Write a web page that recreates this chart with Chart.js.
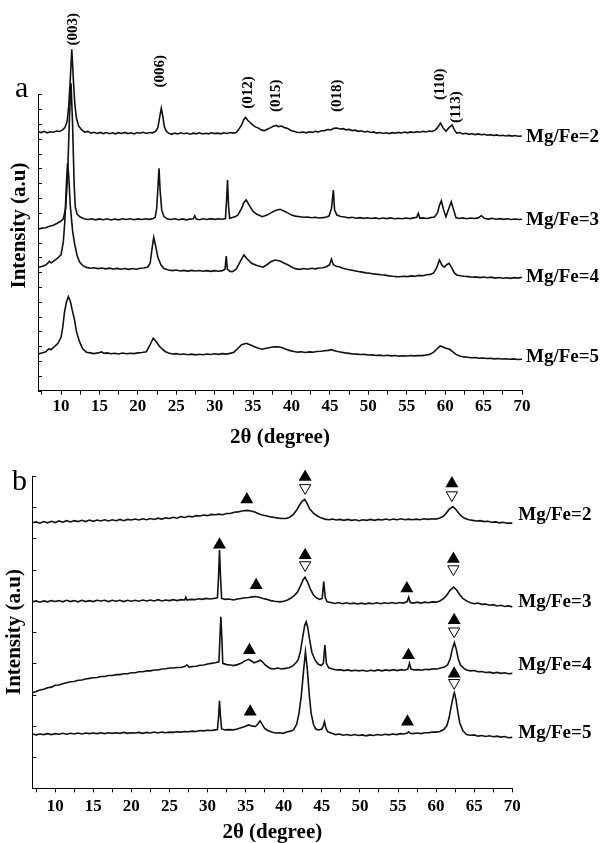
<!DOCTYPE html>
<html>
<head>
<meta charset="utf-8">
<script src="https://cdn.jsdelivr.net/npm/chart.js@4"></script>
<style>
  html, body { margin: 0; padding: 0; background: #fff; overflow: hidden; width: 603px; height: 843px; }
  canvas { position: absolute; left: 0; }
</style>
</head>
<body>
<canvas id="chartA" width="603" height="460" style="top:0"></canvas>
<canvas id="chartB" width="603" height="393" style="top:460px"></canvas>
<script>
const serif = "'Liberation Serif', 'Times New Roman', serif";

// x ticks every 2.5 degrees, labels on multiples of 5
const xTicks = [7.5, 10, 12.5, 15, 17.5, 20, 22.5, 25, 27.5, 30, 32.5, 35, 37.5, 40, 42.5, 45, 47.5, 50, 52.5, 55, 57.5, 60, 62.5, 65, 67.5, 70];
const yTicksA = [0, 1, 2, 3, 4, 5, 6, 7, 8, 9, 10, 11, 12, 13, 14, 15, 16, 17, 18, 19, 20];
const yTicksB = [0, 1, 2, 3, 4, 5, 6, 7, 8, 9, 10];

const sampleNames = ['Mg/Fe=2', 'Mg/Fe=3', 'Mg/Fe=4', 'Mg/Fe=5'];

// panel a : [2theta, intensity]
const mgfe2A = [[7,17.48],[7.4,17.42],[7.8,17.5],[8.2,17.4],[8.6,17.47],[9,17.44],[9.4,17.52],[9.8,17.49],[10.2,17.6],[10.5,17.75],[10.8,18.2],[11.0,19.2],[11.2,21.0],[11.4,23.04],[11.6,21.0],[11.8,19.3],[12.0,18.4],[12.3,17.85],[12.7,17.6],[13.1,17.45],[13.5,17.5],[13.9,17.38],[14.3,17.44],[14.7,17.36],[15.1,17.43],[15.5,17.35],[15.9,17.42],[16.3,17.34],[16.7,17.4],[17.1,17.33],[17.5,17.41],[17.9,17.36],[18.3,17.43],[18.7,17.35],[19.1,17.4],[19.5,17.33],[19.9,17.42],[20.3,17.37],[20.7,17.44],[21.1,17.36],[21.5,17.42],[21.9,17.4],[22.3,17.5],[22.6,17.75],[22.85,18.5],[23.05,19.06],[23.25,18.5],[23.45,17.8],[23.7,17.5],[24.0,17.38],[24.4,17.3],[24.8,17.38],[25.2,17.32],[25.6,17.4],[26,17.34],[26.4,17.39],[26.8,17.31],[27.2,17.38],[27.6,17.33],[28,17.4],[28.4,17.32],[28.8,17.37],[29.2,17.33],[29.6,17.4],[30,17.35],[30.4,17.38],[30.8,17.33],[31.2,17.4],[31.6,17.36],[32,17.42],[32.4,17.38],[32.8,17.42],[33.1,17.6],[33.5,17.93],[33.8,18.3],[34.0,18.45],[34.3,18.25],[34.6,18.1],[34.9,17.95],[35.3,17.8],[35.7,17.72],[36.1,17.58],[36.5,17.55],[36.9,17.66],[37.3,17.75],[37.7,17.86],[38.0,17.9],[38.3,17.82],[38.7,17.86],[39.1,17.75],[39.5,17.7],[39.9,17.56],[40.3,17.5],[40.7,17.44],[41.1,17.42],[41.5,17.45],[41.9,17.4],[42.3,17.47],[42.7,17.43],[43.1,17.5],[43.5,17.46],[43.9,17.54],[44.3,17.55],[44.7,17.62],[45.1,17.6],[45.5,17.7],[45.9,17.72],[46.3,17.66],[46.7,17.68],[47.1,17.6],[47.5,17.63],[47.9,17.55],[48.3,17.58],[48.7,17.5],[49.1,17.54],[49.5,17.46],[49.9,17.5],[50.3,17.42],[50.7,17.46],[51.1,17.38],[51.5,17.42],[51.9,17.36],[52.3,17.4],[52.7,17.35],[53.1,17.41],[53.5,17.37],[53.9,17.43],[54.3,17.39],[54.7,17.45],[55.1,17.4],[55.5,17.46],[55.9,17.42],[56.3,17.48],[56.7,17.44],[57.1,17.5],[57.5,17.46],[57.9,17.52],[58.3,17.49],[58.7,17.58],[59.0,17.75],[59.4,18.06],[59.7,17.75],[60.1,17.5],[60.5,17.75],[60.9,17.93],[61.2,17.6],[61.5,17.38],[61.9,17.42],[62.3,17.33],[62.7,17.37],[63.1,17.3],[63.5,17.34],[63.9,17.28],[64.3,17.33],[64.7,17.27],[65.1,17.3],[65.5,17.24],[65.9,17.28],[66.3,17.22],[66.7,17.26],[67.1,17.2],[67.5,17.24],[67.9,17.19],[68.3,17.23],[68.7,17.18],[69.1,17.22],[69.5,17.17],[70,17.19]];

const mgfe3A = [[7,10.89],[7.5,10.97],[8,11.0],[8.5,11.1],[9,11.16],[9.5,11.3],[10,11.45],[10.3,11.6],[10.6,12.3],[10.85,14.5],[11.1,18.5],[11.3,20.74],[11.5,18.0],[11.7,14.0],[11.85,12.4],[12.1,11.9],[12.5,11.72],[13,11.6],[13.5,11.55],[14,11.6],[14.5,11.53],[15,11.59],[15.5,11.54],[16,11.6],[16.5,11.52],[17,11.58],[17.5,11.53],[18,11.6],[18.5,11.55],[19,11.6],[19.5,11.54],[20,11.59],[20.5,11.55],[21,11.6],[21.5,11.56],[22,11.62],[22.25,11.7],[22.45,12.3],[22.6,13.6],[22.75,15.01],[22.9,13.5],[23.1,12.2],[23.4,11.75],[23.8,11.6],[24.3,11.55],[24.8,11.6],[25.3,11.54],[25.8,11.59],[26.3,11.53],[26.8,11.58],[27.2,11.6],[27.4,11.8],[27.6,11.58],[28,11.54],[28.5,11.6],[29,11.55],[29.5,11.61],[30,11.56],[30.5,11.6],[31,11.57],[31.4,11.62],[31.55,12.9],[31.67,14.22],[31.8,12.5],[31.95,11.62],[32.3,11.68],[32.7,11.75],[33.0,11.85],[33.5,12.3],[33.8,12.7],[34.1,12.87],[34.5,12.5],[35,12.1],[35.5,11.9],[36.2,11.74],[36.8,11.85],[37.5,12.05],[38,12.18],[38.5,12.24],[39,12.12],[39.5,12.0],[40,11.85],[40.5,11.78],[41.1,11.74],[41.6,11.7],[42.1,11.72],[42.6,11.67],[43.1,11.7],[43.6,11.65],[44.1,11.68],[44.6,11.72],[44.9,11.8],[45.2,12.3],[45.45,13.54],[45.6,12.2],[45.9,11.85],[46.4,11.75],[46.9,11.72],[47.4,11.66],[47.9,11.7],[48.4,11.64],[48.9,11.68],[49.4,11.63],[49.9,11.67],[50.4,11.62],[50.9,11.66],[51.4,11.6],[51.9,11.65],[52.4,11.61],[52.9,11.66],[53.4,11.6],[53.9,11.64],[54.4,11.6],[54.9,11.65],[55.4,11.61],[55.9,11.66],[56.3,11.7],[56.5,11.97],[56.7,11.65],[57.1,11.66],[57.6,11.62],[58.1,11.68],[58.6,11.72],[59.0,12.0],[59.25,12.5],[59.5,12.82],[59.8,12.2],[60.1,11.74],[60.4,12.2],[60.8,12.75],[61.1,12.2],[61.4,11.68],[61.8,11.62],[62.3,11.66],[62.8,11.6],[63.3,11.65],[63.8,11.62],[64.3,11.66],[64.7,11.81],[65.1,11.63],[65.6,11.58],[66.1,11.63],[66.6,11.57],[67.1,11.61],[67.6,11.56],[68.1,11.6],[68.6,11.55],[69.1,11.59],[69.6,11.55],[70,11.57]];

const mgfe4A = [[7,8.33],[7.5,8.38],[8,8.48],[8.3,8.62],[8.5,8.74],[8.7,8.62],[9,8.72],[9.5,8.92],[10,9.16],[10.3,10.05],[10.5,11.5],[10.7,14.0],[10.85,15.36],[11.0,14.5],[11.2,12.5],[11.5,10.8],[11.75,9.95],[12.1,9.1],[12.4,8.7],[12.8,8.45],[13.3,8.32],[13.8,8.26],[14.3,8.3],[14.8,8.24],[15.3,8.28],[15.8,8.22],[16.3,8.27],[16.8,8.21],[17.3,8.25],[17.8,8.2],[18.3,8.24],[18.8,8.19],[19.3,8.24],[19.8,8.2],[20.3,8.26],[20.8,8.28],[21.3,8.35],[21.6,8.6],[21.85,9.6],[22.06,10.35],[22.3,9.8],[22.6,9.0],[23.0,8.5],[23.4,8.25],[24,8.15],[24.5,8.1],[25,8.14],[25.5,8.08],[26,8.12],[26.5,8.07],[27,8.12],[27.5,8.08],[28,8.11],[28.5,8.06],[29,8.1],[29.5,8.05],[30,8.1],[30.5,8.06],[31,8.1],[31.35,8.2],[31.5,9.09],[31.65,8.2],[32,8.05],[32.3,8.03],[32.8,8.2],[33.3,8.7],[33.8,9.16],[34.2,8.9],[34.8,8.6],[35.5,8.45],[36.3,8.33],[36.8,8.5],[37.3,8.7],[37.85,8.82],[38.5,8.75],[39,8.62],[39.5,8.5],[40.2,8.3],[40.6,8.22],[41.1,8.19],[41.6,8.24],[42.1,8.2],[42.6,8.26],[43.1,8.22],[43.6,8.28],[44.1,8.3],[44.6,8.38],[44.95,8.5],[45.2,8.87],[45.45,8.5],[45.8,8.4],[46.2,8.37],[46.7,8.26],[47.2,8.2],[47.7,8.15],[48.2,8.1],[48.7,8.04],[49.2,8.0],[49.7,7.95],[50.2,7.93],[50.7,7.88],[51.2,7.85],[51.7,7.82],[52.2,7.8],[52.7,7.75],[53.2,7.72],[53.7,7.7],[54.1,7.69],[54.6,7.72],[55.1,7.7],[55.6,7.75],[56.1,7.72],[56.6,7.78],[57.1,7.76],[57.6,7.82],[58.1,7.85],[58.5,7.95],[58.9,8.3],[59.25,8.82],[59.6,8.45],[59.9,8.33],[60.2,8.5],[60.5,8.6],[60.9,8.25],[61.2,7.95],[61.5,7.81],[62,7.76],[62.5,7.72],[63,7.7],[63.5,7.66],[64,7.68],[64.5,7.63],[65,7.67],[65.5,7.62],[66,7.66],[66.5,7.6],[67,7.64],[67.5,7.59],[68,7.62],[68.5,7.58],[69,7.63],[69.5,7.6],[70,7.65]];

const mgfe5A = [[7,2.48],[7.5,2.55],[8,2.62],[8.4,2.82],[8.7,2.78],[9.1,2.95],[9.6,3.2],[10,3.6],[10.2,4.2],[10.45,5.3],[10.7,5.98],[10.95,6.34],[11.2,6.05],[11.45,5.45],[11.75,4.8],[12.0,4.0],[12.4,3.31],[12.8,2.85],[13.3,2.6],[13.8,2.55],[14.3,2.5],[14.8,2.55],[15.3,2.62],[15.6,2.52],[16,2.55],[16.5,2.49],[17,2.53],[17.5,2.48],[18,2.54],[18.5,2.49],[19,2.53],[19.5,2.5],[20,2.55],[20.5,2.58],[21.1,2.63],[21.5,3.0],[22,3.54],[22.4,3.3],[22.8,3.0],[23.2,2.8],[23.6,2.63],[24,2.54],[24.5,2.48],[25,2.5],[25.5,2.44],[26,2.48],[26.5,2.43],[27,2.47],[27.5,2.42],[28,2.46],[28.5,2.43],[29,2.48],[29.5,2.44],[30,2.49],[30.5,2.45],[31,2.5],[31.5,2.47],[32,2.52],[32.5,2.6],[33,2.85],[33.5,3.1],[34.1,3.2],[34.6,3.1],[35.1,2.98],[35.6,2.88],[36.2,2.8],[36.7,2.86],[37.2,2.92],[37.7,2.97],[38.2,2.96],[38.7,2.92],[39.2,2.82],[39.7,2.72],[40.3,2.65],[40.8,2.6],[41.3,2.63],[41.8,2.58],[42.3,2.62],[42.8,2.6],[43.3,2.65],[43.8,2.66],[44.3,2.7],[44.8,2.72],[45.2,2.77],[45.6,2.7],[46,2.65],[46.5,2.6],[47,2.55],[47.5,2.52],[48,2.48],[48.5,2.47],[49,2.44],[49.5,2.45],[50,2.41],[50.5,2.42],[51,2.38],[51.5,2.4],[52,2.36],[52.5,2.39],[53,2.35],[53.5,2.37],[54,2.33],[54.5,2.36],[55,2.34],[55.5,2.37],[56,2.35],[56.5,2.38],[57,2.37],[57.5,2.41],[58,2.45],[58.5,2.6],[58.9,2.8],[59.35,3.02],[59.7,2.95],[60.1,2.86],[60.6,2.79],[61,2.62],[61.4,2.45],[61.9,2.34],[62.4,2.28],[62.9,2.26],[63.4,2.22],[63.9,2.24],[64.4,2.19],[64.9,2.21],[65.4,2.17],[65.9,2.19],[66.4,2.15],[66.9,2.17],[67.4,2.14],[67.9,2.16],[68.4,2.12],[68.9,2.15],[69.4,2.11],[70,2.12]];

// hkl reflections of panel a
const hklNames = ['(003)', '(006)', '(012)', '(015)', '(018)', '(110)', '(113)'];
const hklAngle = [11.54, 22.84, 34.35, 38.06, 45.98, 59.35, 61.4];
const hklLevel = [24.39, 21.56, 20.12, 19.9, 19.9, 20.68, 19.14];

// panel b
const mgfe2B = [[7,8.5],[7.5,8.53],[8,8.49],[8.5,8.54],[9,8.5],[9.5,8.55],[10,8.51],[10.5,8.56],[11,8.52],[11.5,8.57],[12,8.53],[12.5,8.57],[13,8.54],[13.5,8.58],[14,8.54],[14.5,8.59],[15,8.55],[15.5,8.59],[16,8.56],[16.5,8.6],[17,8.56],[17.5,8.6],[18,8.57],[18.5,8.61],[19,8.57],[19.5,8.61],[20,8.59],[20.5,8.62],[21,8.59],[21.5,8.63],[22,8.6],[22.5,8.64],[23,8.61],[23.5,8.65],[24,8.62],[24.5,8.66],[25,8.64],[25.5,8.68],[26,8.65],[26.5,8.7],[27,8.67],[27.5,8.71],[28,8.69],[28.5,8.73],[29,8.72],[29.5,8.75],[30,8.73],[30.5,8.77],[31,8.76],[31.5,8.78],[32,8.76],[32.5,8.8],[33,8.8],[33.5,8.84],[34,8.85],[34.5,8.88],[35.2,8.9],[35.7,8.88],[36.2,8.85],[36.7,8.79],[37.2,8.75],[37.8,8.72],[38.3,8.69],[38.8,8.67],[39.3,8.65],[39.8,8.64],[40.3,8.64],[40.8,8.68],[41.3,8.78],[41.7,8.91],[42.1,9.08],[42.45,9.2],[42.75,9.25],[43.05,9.13],[43.4,8.95],[43.9,8.81],[44.4,8.72],[44.9,8.66],[45.4,8.62],[45.9,8.6],[46.4,8.62],[46.9,8.59],[47.4,8.61],[47.9,8.58],[48.4,8.61],[48.9,8.58],[49.4,8.6],[49.9,8.57],[50.4,8.6],[50.9,8.58],[51.4,8.61],[51.9,8.58],[52.4,8.61],[52.9,8.59],[53.4,8.62],[53.9,8.59],[54.4,8.62],[54.9,8.6],[55.4,8.63],[55.9,8.6],[56.4,8.62],[56.9,8.6],[57.4,8.62],[57.9,8.6],[58.4,8.63],[58.9,8.61],[59.4,8.63],[59.9,8.62],[60.4,8.65],[60.9,8.7],[61.3,8.8],[61.7,8.93],[62.2,9.02],[62.6,8.93],[63.0,8.8],[63.4,8.7],[63.8,8.64],[64.3,8.6],[64.8,8.58],[65.3,8.56],[65.8,8.57],[66.3,8.54],[66.8,8.55],[67.3,8.52],[67.8,8.53],[68.3,8.5],[68.8,8.52],[69.3,8.49],[70,8.49]];

const mgfe3B = [[7,5.97],[7.5,6.0],[8,5.96],[8.5,6.0],[9,5.97],[9.5,6.01],[10,5.98],[10.5,6.01],[11,5.97],[11.5,6.02],[12,5.98],[12.5,6.01],[13,5.97],[13.5,6.02],[14,5.98],[14.5,6.01],[15,5.98],[15.5,6.02],[16,6.0],[16.5,6.02],[17,5.98],[17.5,6.02],[18,5.99],[18.5,6.02],[19,5.98],[19.5,6.02],[20,5.99],[20.5,6.02],[21,5.99],[21.5,6.03],[22,6.0],[22.5,6.03],[23,6.0],[23.5,6.04],[24,6.0],[24.5,6.03],[25,6.01],[25.5,6.04],[26,6.01],[26.5,6.04],[27,6.03],[27.15,6.12],[27.3,6.03],[27.8,6.05],[28.3,6.04],[28.8,6.07],[29.3,6.05],[29.8,6.08],[30.3,6.06],[30.8,6.08],[31.3,6.1],[31.45,6.8],[31.57,7.63],[31.7,6.8],[31.85,6.08],[32.3,6.05],[32.8,6.06],[33.4,6.03],[33.9,6.06],[34.4,6.08],[34.9,6.1],[35.4,6.11],[35.9,6.13],[36.3,6.14],[36.8,6.12],[37.3,6.08],[37.8,6.05],[38.3,6.01],[38.8,5.99],[39.5,5.97],[40,5.99],[40.5,6.03],[41,6.1],[41.4,6.18],[41.8,6.28],[42.2,6.48],[42.55,6.68],[42.8,6.76],[43.1,6.62],[43.5,6.38],[43.9,6.19],[44.3,6.1],[44.7,6.05],[45.05,6.08],[45.25,6.62],[45.45,6.1],[45.7,5.97],[46.2,5.95],[46.7,5.92],[47.2,5.95],[47.7,5.91],[48.2,5.94],[48.7,5.91],[49.2,5.93],[49.7,5.9],[50.2,5.93],[50.7,5.9],[51.2,5.93],[51.7,5.91],[52.2,5.94],[52.7,5.91],[53.2,5.94],[53.7,5.92],[54.2,5.95],[54.7,5.92],[55.2,5.95],[55.7,5.93],[56.2,5.98],[56.4,6.12],[56.6,5.95],[57,5.93],[57.5,5.96],[58,5.93],[58.5,5.96],[59,5.94],[59.5,5.97],[60,5.96],[60.5,6.0],[61,6.08],[61.4,6.18],[61.8,6.33],[62.3,6.44],[62.7,6.35],[63.1,6.2],[63.5,6.08],[64,6.0],[64.5,5.94],[65,5.91],[65.5,5.93],[66,5.89],[66.5,5.9],[67,5.86],[67.5,5.88],[68,5.84],[68.5,5.86],[69,5.82],[69.5,5.84],[70,5.81]];

const mgfe4B = [[7,3.06],[7.5,3.1],[8,3.15],[8.5,3.17],[9,3.22],[9.5,3.24],[10,3.3],[10.5,3.31],[11,3.35],[11.5,3.38],[12,3.41],[12.5,3.42],[13,3.46],[13.5,3.47],[14,3.5],[14.5,3.52],[15,3.54],[15.5,3.55],[16,3.58],[16.5,3.58],[17,3.61],[17.5,3.61],[18,3.64],[18.5,3.64],[19,3.67],[19.5,3.67],[20,3.7],[20.5,3.7],[21,3.73],[21.5,3.73],[22,3.76],[22.5,3.76],[23,3.79],[23.5,3.79],[24,3.82],[24.5,3.83],[25,3.85],[25.5,3.85],[26,3.87],[26.5,3.87],[27,3.9],[27.3,3.95],[27.6,3.88],[28,3.9],[28.5,3.91],[29,3.94],[29.5,3.95],[30,3.98],[30.5,4.0],[31,4.02],[31.5,4.05],[31.62,4.8],[31.75,5.49],[31.88,4.8],[32.0,4.0],[32.5,3.96],[33,3.95],[33.4,3.93],[33.9,3.96],[34.4,4.0],[34.9,4.08],[35.4,4.13],[35.8,4.07],[36.1,4.02],[36.5,4.05],[36.9,4.1],[37.2,4.05],[37.6,3.94],[38.2,3.84],[38.7,3.82],[39.2,3.85],[39.7,3.82],[40.2,3.84],[40.7,3.86],[41.2,3.92],[41.6,4.02],[41.9,4.11],[42.2,4.4],[42.5,4.85],[42.75,5.22],[42.95,5.33],[43.15,5.15],[43.4,4.75],[43.7,4.35],[44.1,4.11],[44.5,3.98],[44.9,3.93],[45.2,4.0],[45.4,4.59],[45.6,4.0],[45.9,3.86],[46.4,3.82],[46.9,3.79],[47.4,3.8],[47.9,3.77],[48.4,3.79],[48.9,3.76],[49.4,3.78],[49.9,3.76],[50.4,3.78],[50.9,3.75],[51.4,3.78],[51.9,3.76],[52.4,3.79],[52.9,3.76],[53.4,3.79],[53.9,3.77],[54.4,3.8],[54.9,3.77],[55.4,3.8],[55.9,3.78],[56.3,3.82],[56.5,4.0],[56.7,3.82],[57.1,3.79],[57.6,3.8],[58.1,3.78],[58.6,3.81],[59.1,3.8],[59.6,3.83],[60.1,3.82],[60.6,3.85],[61.1,3.88],[61.5,3.95],[61.85,4.15],[62.15,4.48],[62.4,4.66],[62.65,4.45],[62.9,4.15],[63.2,3.95],[63.6,3.85],[64,3.79],[64.5,3.76],[65,3.77],[65.5,3.73],[66,3.74],[66.5,3.71],[67,3.72],[67.5,3.69],[68,3.71],[68.5,3.68],[69,3.7],[69.5,3.67],[70,3.68]];

const mgfe5B = [[7,1.74],[7.5,1.71],[8,1.74],[8.5,1.72],[9,1.75],[9.5,1.72],[10,1.75],[10.5,1.73],[11,1.76],[11.5,1.73],[12,1.76],[12.5,1.74],[13,1.77],[13.5,1.74],[14,1.77],[14.5,1.75],[15,1.77],[15.5,1.75],[16,1.78],[16.5,1.75],[17,1.78],[17.5,1.76],[18,1.78],[18.5,1.76],[19,1.79],[19.5,1.76],[20,1.78],[20.5,1.77],[21,1.79],[21.5,1.76],[22,1.79],[22.5,1.77],[23,1.8],[23.5,1.77],[24,1.8],[24.5,1.78],[25,1.8],[25.5,1.79],[26,1.81],[26.5,1.8],[27,1.82],[27.5,1.81],[28,1.83],[28.5,1.82],[29,1.85],[29.5,1.84],[30,1.86],[30.5,1.85],[31,1.87],[31.3,1.88],[31.45,2.3],[31.57,2.8],[31.7,2.3],[31.85,1.9],[32.3,1.87],[32.8,1.88],[33.4,1.87],[33.9,1.9],[34.4,1.94],[34.9,1.98],[35.4,2.03],[35.9,1.99],[36.3,1.98],[36.6,2.06],[36.9,2.16],[37.2,2.04],[37.5,1.92],[37.9,1.85],[38.4,1.8],[38.9,1.77],[39.4,1.78],[39.9,1.76],[40.4,1.8],[40.9,1.83],[41.3,1.88],[41.7,2.05],[42.0,2.4],[42.3,2.95],[42.6,3.75],[42.85,4.37],[43.1,3.8],[43.35,3.0],[43.6,2.4],[43.9,2.05],[44.2,1.9],[44.6,1.87],[45.0,1.9],[45.2,2.0],[45.35,2.13],[45.55,1.92],[45.8,1.81],[46.3,1.76],[46.8,1.72],[47.3,1.74],[47.8,1.7],[48.3,1.72],[48.8,1.69],[49.3,1.72],[49.8,1.69],[50.3,1.71],[50.8,1.68],[51.3,1.71],[51.8,1.69],[52.3,1.72],[52.8,1.7],[53.3,1.73],[53.8,1.71],[54.3,1.74],[54.8,1.72],[55.3,1.75],[55.8,1.74],[56.2,1.77],[56.4,1.81],[56.6,1.76],[57,1.75],[57.5,1.77],[58,1.75],[58.5,1.78],[59,1.78],[59.5,1.8],[60,1.8],[60.5,1.82],[61,1.88],[61.4,2.0],[61.7,2.25],[62.0,2.65],[62.3,3.0],[62.4,3.06],[62.6,2.85],[62.85,2.45],[63.1,2.1],[63.5,1.85],[64,1.72],[64.5,1.7],[65,1.71],[65.5,1.67],[66,1.69],[66.5,1.66],[67,1.68],[67.5,1.65],[68,1.67],[68.5,1.64],[69,1.66],[69.5,1.62],[70,1.63]];

// phase markers in panel b (filled up triangles, open down triangles)
const filledMarks = [[35.16,9.25],[42.81,9.97],[62.07,9.76],[31.57,7.8],[36.38,6.5],[42.81,7.46],[56.16,6.4],[62.27,7.34],[35.5,4.42],[56.37,4.26],[62.37,5.38],[35.6,2.45],[56.24,2.13],[62.37,3.67]];
const openMarks = [[42.81,9.62],[62.07,9.39],[42.81,7.15],[62.27,7.02],[62.37,5.03],[62.37,3.38]];

// extra drawing: inward y ticks, sample names, hkl labels, y title, panel letter
const xrdDecor = {
  id: 'xrdDecor',
  afterDraw(chart, args, o) {
    const ctx = chart.ctx;
    const area = chart.chartArea;
    const x = chart.scales.x, y = chart.scales.y;
    ctx.save();
    ctx.strokeStyle = '#000';
    ctx.lineWidth = 1;
    o.yTicks.forEach(v => {
      const py = Math.round(y.getPixelForValue(v)) + 0.5;
      ctx.beginPath();
      ctx.moveTo(area.left, py);
      ctx.lineTo(area.left + 4, py);
      ctx.stroke();
    });

    ctx.fillStyle = '#000';
    ctx.font = 'bold 19px ' + serif;
    ctx.textAlign = 'left';
    ctx.textBaseline = 'middle';
    sampleNames.forEach((n, i) => {
      ctx.fillText(n, area.right + o.nameGap, y.getPixelForValue(o.nameLevels[i]));
    });

    if (o.hkl) {
      ctx.font = 'bold 15px ' + serif;
      ctx.textAlign = 'center';
      hklNames.forEach((t, i) => {
        ctx.save();
        ctx.translate(x.getPixelForValue(hklAngle[i]), y.getPixelForValue(hklLevel[i]));
        ctx.rotate(-Math.PI / 2);
        ctx.fillText(t, 0, 0);
        ctx.restore();
      });
    }

    ctx.font = 'bold 21px ' + serif;
    ctx.save();
    ctx.translate(o.titleX, o.titleY);
    ctx.rotate(-Math.PI / 2);
    ctx.textAlign = 'center';
    ctx.fillText('Intensity (a.u)', 0, 0);
    ctx.restore();

    ctx.font = '30px ' + serif;
    ctx.textAlign = 'left';
    ctx.textBaseline = 'alphabetic';
    ctx.fillText(o.letter, o.letterX, o.letterY);
    ctx.restore();
  }
};

function lineSet(pts) {
  return { data: pts, borderColor: '#111', borderWidth: 1.6, pointRadius: 0, tension: 0, clip: false };
}

function xScale(h, pad, titleGap) {
  return {
    type: 'linear', min: 7, max: 70,
    afterBuildTicks: s => { s.ticks = xTicks.map(v => ({ value: v })); },
    afterFit: s => { s.height = h; },
    grid: { display: true, drawOnChartArea: false, drawTicks: true, tickLength: 4, color: '#000', lineWidth: 1 },
    border: { display: true, color: '#000', width: 1 },
    ticks: {
      autoSkip: false, maxRotation: 0, padding: pad, color: '#000',
      font: { family: serif, size: 17, weight: 'bold' },
      callback: v => (v % 5 === 0 ? v : '')
    },
    title: {
      display: true, text: '2θ (degree)', color: '#000',
      font: { family: serif, size: 21, weight: 'bold' }, padding: { top: 0, bottom: titleGap }
    }
  };
}

function yScale(max) {
  return {
    min: 0, max: max,
    afterFit: s => { s.width = 0; },
    ticks: { display: false },
    grid: { display: false },
    border: { display: true, color: '#000', width: 1 }
  };
}

new Chart(document.getElementById('chartA'), {
  type: 'line',
  data: { datasets: [lineSet(mgfe2A), lineSet(mgfe3A), lineSet(mgfe4A), lineSet(mgfe5A)] },
  options: {
    responsive: false,
    animation: false,
    layout: { padding: { left: 38, right: 81, top: 94.3, bottom: 0 } },
    scales: { x: xScale(69.3, 2, 9.4), y: yScale(20) },
    plugins: {
      legend: { display: false },
      tooltip: { enabled: false },
      xrdDecor: {
        yTicks: yTicksA, nameGap: 4, nameLevels: [17.12, 11.52, 7.67, 2.29], hkl: true,
        titleX: 19.5, titleY: 225.5, letter: 'a', letterX: 15, letterY: 97
      }
    }
  },
  plugins: [xrdDecor]
});

new Chart(document.getElementById('chartB'), {
  type: 'line',
  data: {
    datasets: [
      lineSet(mgfe2B), lineSet(mgfe3B), lineSet(mgfe4B), lineSet(mgfe5B),
      { type: 'scatter', data: filledMarks, pointStyle: 'triangle', pointRadius: 7.5,
        backgroundColor: '#000', borderWidth: 0, clip: false },
      { type: 'scatter', data: openMarks, pointStyle: 'triangle', pointRadius: 6.5, rotation: 180,
        backgroundColor: '#fff', borderColor: '#000', borderWidth: 1, clip: false }
    ]
  },
  options: {
    responsive: false,
    animation: false,
    layout: { padding: { left: 32.3, right: 90.7, top: 16, bottom: 0 } },
    scales: { x: xScale(64.7, 4, 7.4), y: yScale(10) },
    plugins: {
      legend: { display: false },
      tooltip: { enabled: false },
      xrdDecor: {
        yTicks: yTicksB, nameGap: 6, nameLevels: [8.75, 5.97, 3.95, 1.76], hkl: false,
        titleX: 15, titleY: 172, letter: 'b', letterX: 12, letterY: 30
      }
    }
  },
  plugins: [xrdDecor]
});
</script>
</body>
</html>
